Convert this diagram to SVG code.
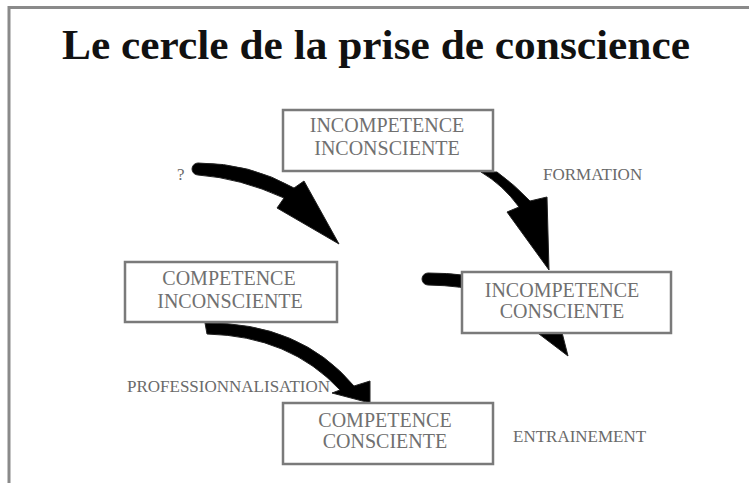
<svg xmlns="http://www.w3.org/2000/svg" width="749" height="483" viewBox="0 0 749 483">
<style>
.frame{stroke:#8a8a8a;stroke-width:3;fill:none}
.box{fill:#fff;stroke:#7a7a7a;stroke-width:2.5}
.nt{font-family:"Liberation Serif","Times New Roman",serif;font-size:20px;fill:#707070;text-anchor:middle}
.lb{font-family:"Liberation Serif","Times New Roman",serif;font-size:17px;fill:#6a6a6a}
.title{font-family:"Liberation Serif","Times New Roman",serif;font-size:43px;font-weight:bold;fill:#111}
.arr{fill:#000;stroke:#222;stroke-width:1}
</style>
<rect width="749" height="483" fill="#fff"/>
<path class="frame" d="M9,483 V7.5 H749"/>
<text class="title" x="62" y="59" textLength="628" lengthAdjust="spacingAndGlyphs">Le cercle de la prise de conscience</text>
<g id="connectors">
<path class="arr" d="M198,163 Q250,163 294,188 L304,181 L339,244 L277,208 L284,198 Q240,178 198,175 A6,6 0 0 1 198,163 Z"/>
<path class="arr" d="M481,172 L497,172 Q515,185 530,201 L547,197 L549,270 L507,212 L519,207 Q503,185 481,172 Z"/>
<path class="arr" d="M428,273 Q505,273 545,308 L555,305 L568,356 L518,318 L530,314 Q495,286 428,285 A6,6 0 0 1 428,273 Z"/>
<path class="arr" d="M205,323 Q300,322 354,386 L370,381 L370,403 L332,393 L340,390 Q290,336 207,334 Z"/>
</g>
<g id="incompetence-inconsciente">
<rect class="box" x="283" y="110" width="210" height="61"/>
<text class="nt" x="387" y="132">INCOMPETENCE</text>
<text class="nt" x="387" y="155">INCONSCIENTE</text>
</g>
<g id="incompetence-consciente">
<rect class="box" x="462" y="272" width="209" height="61"/>
<text class="nt" x="562" y="297">INCOMPETENCE</text>
<text class="nt" x="562" y="318">CONSCIENTE</text>
</g>
<g id="competence-inconsciente">
<rect class="box" x="125" y="262" width="212" height="60"/>
<text class="nt" x="229" y="285">COMPETENCE</text>
<text class="nt" x="230" y="308">INCONSCIENTE</text>
</g>
<g id="competence-consciente">
<rect class="box" x="283" y="403" width="210" height="61"/>
<text class="nt" x="385" y="427">COMPETENCE</text>
<text class="nt" x="385" y="448">CONSCIENTE</text>
</g>
<g id="labels">
<text class="lb" x="177" y="180">?</text>
<text class="lb" x="543" y="180">FORMATION</text>
<text class="lb" x="127" y="392">PROFESSIONNALISATION</text>
<text class="lb" x="513" y="442">ENTRAINEMENT</text>
</g>
</svg>
